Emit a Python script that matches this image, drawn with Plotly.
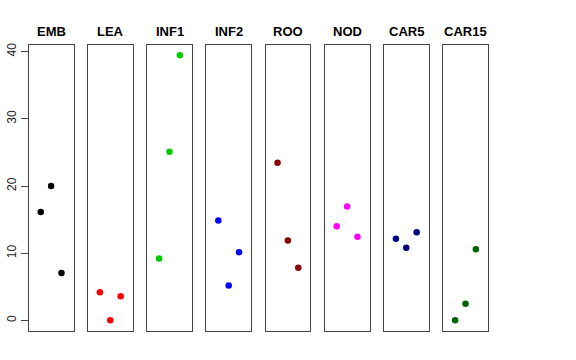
import plotly.graph_objects as go

categories = ["EMB", "LEA", "INF1", "INF2", "ROO", "NOD", "CAR5", "CAR15"]
emb = [16.15, 20.0, 7.07]
lea = [4.21, 0.03, 3.62]
inf1 = [9.24, 25.11, 39.45]
inf2 = [14.9, 5.2, 10.17]
roo = [23.48, 11.9, 7.87]
nod = [14.02, 16.98, 12.45]
car5 = [12.15, 10.82, 13.13]
car15 = [0.03, 2.48, 10.62]
series = [emb, lea, inf1, inf2, roo, nod, car5, car15]
colors = ["#000000", "#FF0000", "#00CD00", "#0000FF", "#8B0000", "#FF00FF", "#000080", "#006400"]
replicate = [1, 2, 3]
y_ticks = [0, 10, 20, 30, 40]

W, H = 576, 360
left0, pw, step = 28.7, 44.8, 59.2
top_px, bot_px = 43.3, 331.0

fig = go.Figure()
layout = dict(
    width=W, height=H, autosize=False,
    margin=dict(l=0, r=0, t=0, b=0),
    paper_bgcolor="white", plot_bgcolor="white",
    showlegend=False,
    font=dict(family="Liberation Sans, Arial, sans-serif", color="black"),
)
annotations = []
ydom = [1 - bot_px / H, 1 - top_px / H]
for i, (cat, vals, col) in enumerate(zip(categories, series, colors)):
    sfx = "" if i == 0 else str(i + 1)
    fig.add_trace(go.Scatter(
        x=replicate, y=vals, mode="markers",
        marker=dict(color=col, size=6.5, line=dict(width=0)),
        xaxis="x" + sfx, yaxis="y" + sfx, name=cat,
    ))
    l = left0 + i * step
    r = l + pw
    layout["xaxis" + sfx] = dict(
        domain=[l / W, r / W], range=[-0.16, 4.16], anchor="y" + sfx,
        showticklabels=False, ticks="", showgrid=False, zeroline=False,
        showline=True, mirror=True, linecolor="#444444", linewidth=1,
        fixedrange=True,
    )
    ya = dict(
        domain=ydom, range=[-1.58, 40.98], anchor="x" + sfx,
        showgrid=False, zeroline=False,
        showline=True, mirror=True, linecolor="#444444", linewidth=1,
        fixedrange=True,
    )
    if i == 0:
        ya.update(
            tickmode="array", tickvals=y_ticks, ticktext=[str(t) for t in y_ticks],
            ticks="outside", ticklen=7, tickwidth=1, tickcolor="#444444",
            tickangle=-90, tickfont=dict(size=12, color="#222222"),
            showticklabels=True,
        )
    else:
        ya.update(showticklabels=False, ticks="")
    layout["yaxis" + sfx] = ya
    annotations.append(dict(
        text="<b>" + cat + "</b>", x=(l + r) / 2 / W, y=1 - 30 / H,
        xref="paper", yref="paper", showarrow=False,
        xanchor="center", yanchor="middle",
        font=dict(size=13, color="black"),
    ))

layout["annotations"] = annotations
fig.update_layout(**layout)
fig.write_html(
    "out.html",
    config={"displayModeBar": False, "staticPlot": True},
    post_script="document.body.style.margin='0';document.body.style.padding='0';document.body.style.overflow='hidden';",
)
